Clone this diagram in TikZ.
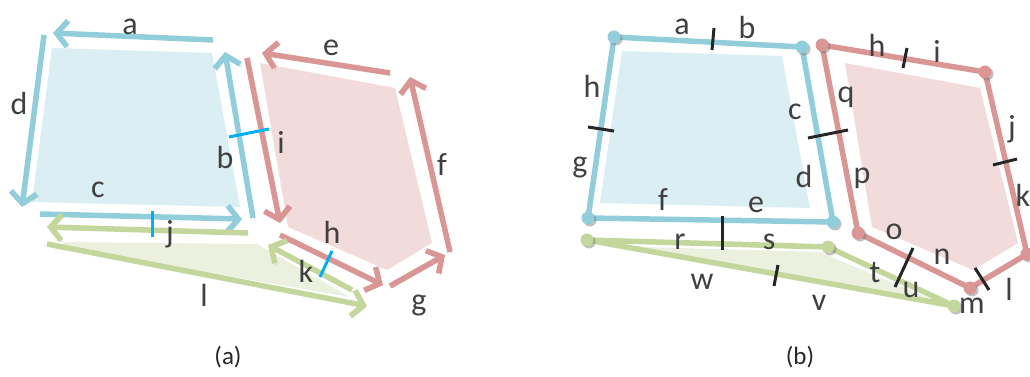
\documentclass[tikz,border=0pt]{standalone}
\usepackage{fontspec}
\setmainfont{Carlito}
\usetikzlibrary{arrows.meta}
\definecolor{bluel}{HTML}{92CDDC}
\definecolor{bluef}{HTML}{DAEEF3}
\definecolor{redl}{HTML}{D99694}
\definecolor{redf}{HTML}{F2DCDB}
\definecolor{greenl}{HTML}{C3D69B}
\definecolor{greenf}{HTML}{EBF1DE}
\definecolor{cutc}{HTML}{00B0F0}
\definecolor{txt}{HTML}{404040}
\tikzset{
  shd/.style   = {preaction={draw=black!55, opacity=0.45,
                   transform canvas={shift={(2pt,-2pt)}}}},
  vec/.style   = {shd, line width=5.5pt, -{Straight Barb[length=11pt, width=26pt]}},
  seg/.style   = {shd, line width=5.5pt, line join=round},
  vdot/.style  = {circle, inner sep=0pt, minimum size=13pt,
                  preaction={fill=black!55, opacity=0.45,
                  transform canvas={shift={(2pt,-2pt)}}}},
  lbl/.style   = {text=txt, font=\fontsize{32}{34}\selectfont, inner sep=0pt},
  capt/.style  = {text=black!85, font=\fontsize{25}{27}\selectfont, inner sep=0pt},
  cutmark/.style = {line width=3pt, draw=cutc},
  barmark/.style = {line width=3pt, draw=black!85},
}

\begin{document}
\begin{tikzpicture}[x=1pt, y=-1pt]
  \useasboundingbox (0,0) rectangle (1030,377);

  % (a)
  \fill[bluef]  (52,48) -- (212,53) -- (240,207) -- (32,202) -- cycle;
  \fill[redf]   (260,63) -- (395,88) -- (432,243) -- (387,270) -- (288,227) -- cycle;
  \fill[greenf] (65,242) -- (257,244) -- (350,297) -- (60,247) -- cycle;

  \draw[vec, bluel] (213,40) -- (53,33);
  \draw[vec, bluel] (44,35) -- (22,207);
  \draw[vec, bluel] (253,218) -- (225,52);
  \draw[vec, bluel] (40,214) -- (242,219);
  \draw[vec, redl] (390,73) -- (262,53);
  \draw[vec, redl] (247,58) -- (280,223);
  \draw[vec, redl] (450,252) -- (410,77);
  \draw[vec, redl] (280,235) -- (383,285);
  \draw[vec, redl] (390,286) -- (445,255);
  \draw[vec, greenl] (248,233) -- (47,227);
  \draw[vec, greenl] (352,290) -- (268,245);
  \draw[vec, greenl] (47,244) -- (367,306);

  \draw[cutmark] (152,211) -- (152,237);
  \draw[cutmark] (229,137) -- (269,129);
  \draw[cutmark] (332,251) -- (320,277);

  \node[lbl] (la) at (130,27) {a};
  \node[lbl] (lb) at (225,157) {b};
  \node[lbl] (lc) at (98,190) {c};
  \node[lbl] (ld) at (19,103) {d};
  \node[lbl] (le) at (331,48) {e};
  \node[lbl] (lf) at (442,165) {f};
  \node[lbl] (lg) at (419,305) {g};
  \node[lbl] (lh) at (332,232) {h};
  \node[lbl] (li) at (281,142) {i};
  \node[lbl] (lj) at (170,234) {j};
  \node[lbl] (lk) at (306,271) {k};
  \node[lbl] (ll) at (204,295) {l};
  \node[capt] (capa) at (228,357) {(a)};

  % (b)
  \coordinate (b1) at (614,37);  \coordinate (b2) at (802,47);
  \coordinate (b3) at (833,222); \coordinate (b4) at (588,218);
  \coordinate (r1) at (822,45);  \coordinate (r2) at (985,72);
  \coordinate (r3) at (1027,254); \coordinate (r4) at (970,288);
  \coordinate (r5) at (858,233);
  \coordinate (g1) at (587,240); \coordinate (g2) at (828,247);
  \coordinate (g3) at (954,306);

  \fill[bluef]  (622,51) -- (782,56) -- (810,208) -- (600,203) -- cycle;
  \fill[redf]   (845,63) -- (980,88) -- (1018,243) -- (973,270) -- (872,227) -- cycle;
  \fill[greenf] (605,246) -- (820,252) -- (935,301) -- cycle;

  \draw[seg, bluel] (b1) -- (b2) -- (b3) -- (b4) -- cycle;
  \draw[seg, redl] (r1) -- (r2) -- (r3) -- (r4) -- (r5) -- cycle;
  \draw[seg, greenl] (g1) -- (g2) -- (g3) -- cycle;

  \foreach \p in {b1,b2,b3,b4}
    \node[vdot, fill=bluel] (d\p) at (\p) {};
  \foreach \p in {r1,r2,r3,r4,r5}
    \node[vdot, fill=redl] (d\p) at (\p) {};
  \foreach \p in {g1,g2,g3}
    \node[vdot, fill=greenl] (d\p) at (\p) {};

  \draw[barmark] (714,28) -- (712,50);
  \draw[barmark] (588,127) -- (614,131);
  \draw[barmark] (808,138) -- (848,130);
  \draw[barmark] (722,216) -- (722,250);
  \draw[barmark] (907,48) -- (903,68);
  \draw[barmark] (993,165) -- (1017,159);
  \draw[barmark] (913,248) -- (895,287);
  \draw[barmark] (975,268) -- (989,290);
  \draw[barmark] (778,265) -- (774,286);

  \node[lbl] (na) at (682,27) {a};
  \node[lbl] (nb) at (747,28) {b};
  \node[lbl] (nc) at (795,112) {c};
  \node[lbl] (nd) at (804,176) {d};
  \node[lbl] (ne) at (756,205) {e};
  \node[lbl] (nf) at (663,200) {f};
  \node[lbl] (ng) at (580,167) {g};
  \node[lbl] (nh) at (592,86) {h};
  \node[lbl] (nh2) at (877,45) {h};
  \node[lbl] (ni) at (937,51) {i};
  \node[lbl] (nj) at (1012,129) {j};
  \node[lbl] (nk) at (1023,195) {k};
  \node[lbl] (nl) at (1009,289) {l};
  \node[lbl] (nm) at (972,306) {m};
  \node[lbl] (nn) at (942,257) {n};
  \node[lbl] (no) at (894,232) {o};
  \node[lbl] (np) at (862,178) {p};
  \node[lbl] (nq) at (846,97) {q};
  \node[lbl] (nr) at (680,242) {r};
  \node[lbl] (ns) at (769,242) {s};
  \node[lbl] (nt) at (875,272) {t};
  \node[lbl] (nu) at (911,290) {u};
  \node[lbl] (nv) at (819,303) {v};
  \node[lbl] (nw) at (702,282) {w};
  \node[capt] (capb) at (800,357) {(b)};
\end{tikzpicture}
\end{document}
